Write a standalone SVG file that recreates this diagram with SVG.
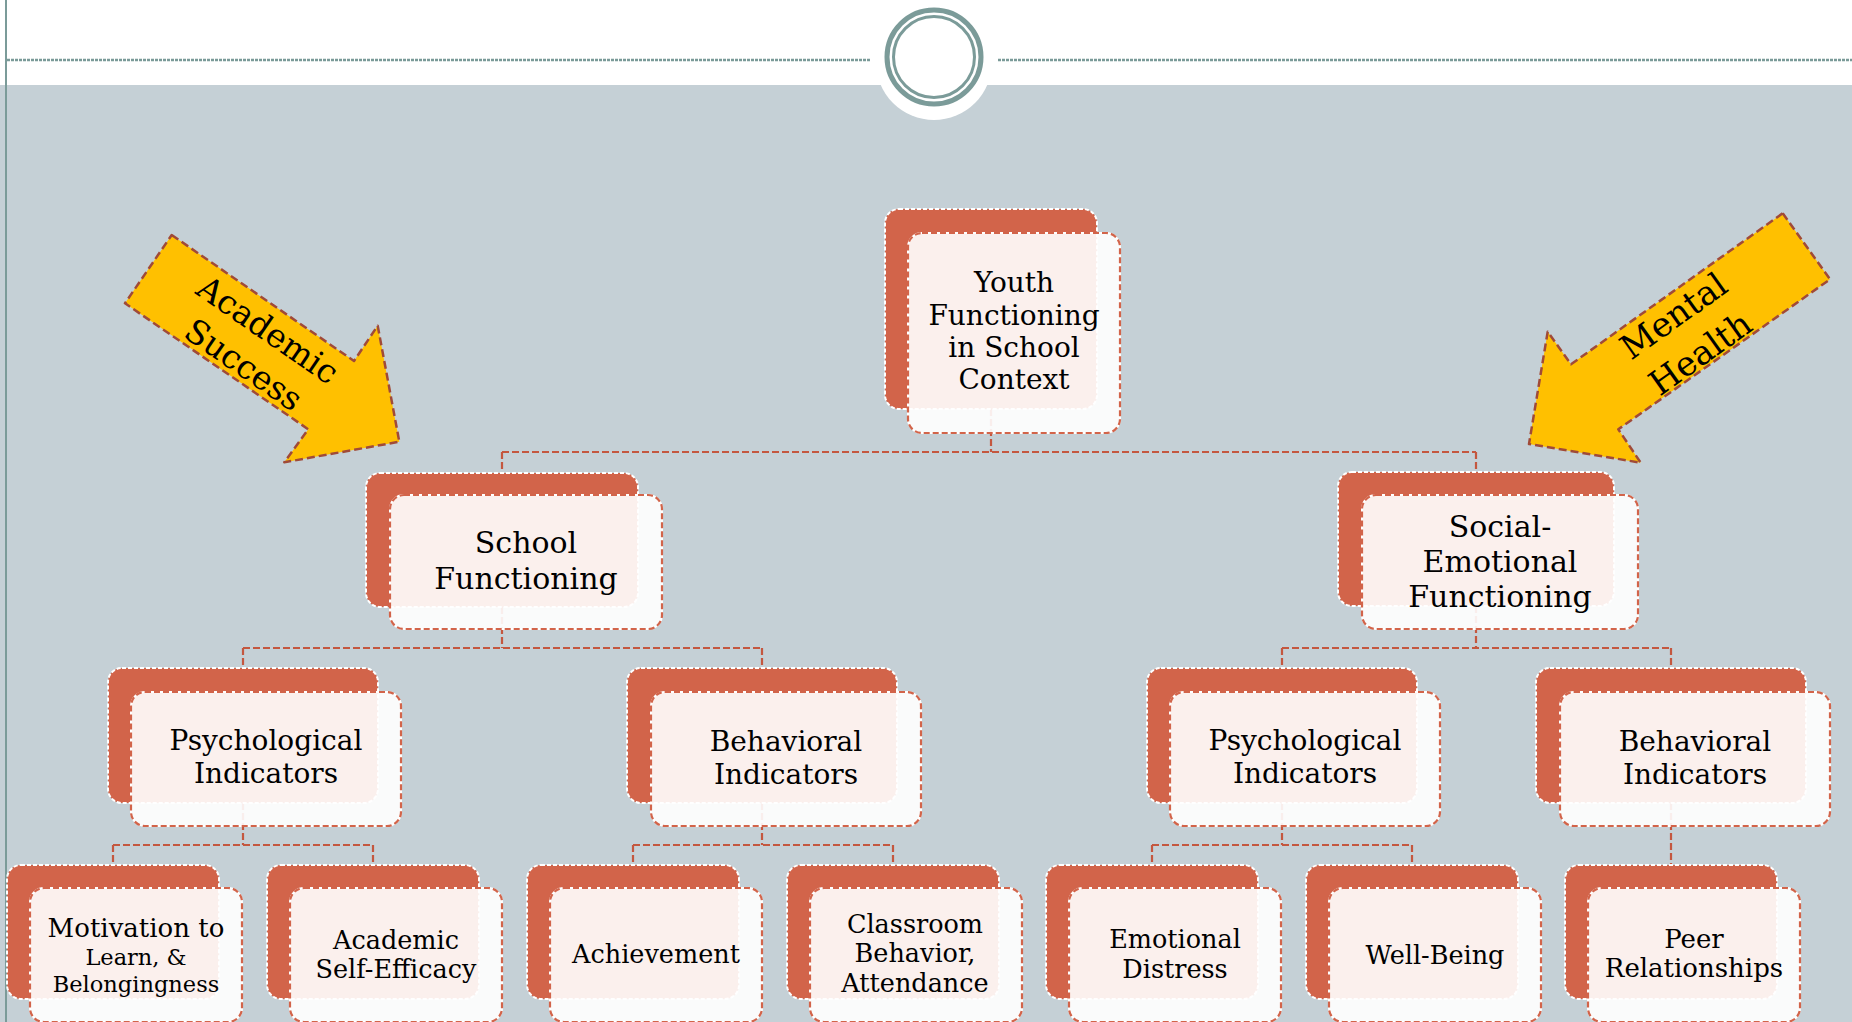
<svg xmlns="http://www.w3.org/2000/svg" width="1852" height="1022" viewBox="0 0 1852 1022">
<style>
.bk{fill:#d2644a;stroke:#ffffff;stroke-width:2;stroke-dasharray:4 2}
.fw{fill:none;stroke:#ffffff;stroke-width:2}
.fr{fill:#ffffff;fill-opacity:0.9;stroke:#d2644a;stroke-width:2.2;stroke-dasharray:6 3}
.cn{fill:none;stroke:#c4573f;stroke-width:2.2;stroke-dasharray:7 3}
.ar{fill:#ffc000;stroke:#a04a38;stroke-width:2.5;stroke-dasharray:8 4;stroke-linejoin:round}
text{font-family:"DejaVu Serif","Liberation Serif",serif;fill:#000000;text-anchor:middle}
.t28{font-size:28px}
.t30{font-size:30px}
.t25{font-size:25.5px}
</style>
<rect x="0" y="0" width="1852" height="1022" fill="#ffffff"/>
<rect x="0" y="85" width="1852" height="937" fill="#c5d0d6"/>
<line x1="6" y1="0" x2="6" y2="1022" stroke="#7b9b99" stroke-width="2"/>
<g id="header">
<line x1="7" y1="60" x2="870" y2="60" stroke="#7a9a98" stroke-width="2.5" stroke-dasharray="3 1"/>
<line x1="998" y1="60" x2="1852" y2="60" stroke="#7a9a98" stroke-width="2.5" stroke-dasharray="3 1"/>
<circle cx="934" cy="62" r="58" fill="#ffffff"/>
<circle cx="934" cy="57" r="47" fill="none" stroke="#7b9b99" stroke-width="5"/>
<circle cx="934" cy="57" r="40.5" fill="none" stroke="#7b9b99" stroke-width="3"/>
</g>
<g id="connectors">
<path class="cn" d="M991 409V452M502 452H1476M502 452V473M1476 452V472"/>
<path class="cn" d="M502 607V648M243 648H762M243 648V668M762 648V668"/>
<path class="cn" d="M1476 606V648M1282 648H1671M1282 648V668M1671 648V668"/>
<path class="cn" d="M243 803V845M113 845H373M113 845V865M373 845V865"/>
<path class="cn" d="M762 803V845M633 845H893M633 845V865M893 845V865"/>
<path class="cn" d="M1282 803V845M1152 845H1412M1152 845V865M1412 845V865"/>
<path class="cn" d="M1671 803V865"/>
</g>
<g id="arrow-academic">
<polygon class="ar" points="171.7,235 354,361 377.7,325.7 399.3,441.7 284.3,462.3 308.3,429.3 125,303.3"/>
<g transform="translate(256,347) rotate(34.6)">
<text x="0" y="-9.5" style="font-size:33px">Academic</text>
<text x="0" y="33" style="font-size:33px">Success</text>
</g>
</g>
<g id="arrow-mental">
<polygon class="ar" points="1782.7,213.3 1830,279.3 1618.3,429.3 1640.7,462.7 1529,444 1547.7,331.7 1571,364.3"/>
<g transform="translate(1686.5,334) rotate(-35.5)">
<text x="0" y="-10.5" style="font-size:34px">Mental</text>
<text x="0" y="35.5" style="font-size:34px">Health</text>
</g>
</g>
<g id="root">
<rect class="bk" x="885" y="209" width="212" height="200" rx="14"/>
<rect class="fw" x="908" y="233" width="212" height="200" rx="14"/>
<rect class="fr" x="908" y="233" width="212" height="200" rx="14"/>
<text class="t28" x="1014" y="292">Youth</text>
<text class="t28" x="1014" y="325">Functioning</text>
<text class="t28" x="1014" y="357">in School</text>
<text class="t28" x="1014" y="389">Context</text>
</g>
<g id="school">
<rect class="bk" x="366" y="473" width="272" height="134" rx="14"/>
<rect class="fw" x="390" y="495" width="272" height="134" rx="14"/>
<rect class="fr" x="390" y="495" width="272" height="134" rx="14"/>
<text class="t30" x="526" y="553">School</text>
<text class="t30" x="526" y="589">Functioning</text>
</g>
<g id="social">
<rect class="bk" x="1338" y="472" width="276" height="134" rx="14"/>
<rect class="fw" x="1362" y="495" width="276" height="134" rx="14"/>
<rect class="fr" x="1362" y="495" width="276" height="134" rx="14"/>
<text class="t30" x="1500" y="537">Social-</text>
<text class="t30" x="1500" y="572">Emotional</text>
<text class="t30" x="1500" y="607">Functioning</text>
</g>
<g id="psych-left">
<rect class="bk" x="108" y="668" width="270" height="135" rx="14"/>
<rect class="fw" x="131" y="692" width="270" height="134" rx="14"/>
<rect class="fr" x="131" y="692" width="270" height="134" rx="14"/>
<text class="t28" x="266" y="750">Psychological</text>
<text class="t28" x="266" y="783">Indicators</text>
</g>
<g id="behav-left">
<rect class="bk" x="627" y="668" width="270" height="135" rx="14"/>
<rect class="fw" x="651" y="692" width="270" height="134" rx="14"/>
<rect class="fr" x="651" y="692" width="270" height="134" rx="14"/>
<text class="t28" x="786" y="751">Behavioral</text>
<text class="t28" x="786" y="784">Indicators</text>
</g>
<g id="psych-right">
<rect class="bk" x="1147" y="668" width="270" height="135" rx="14"/>
<rect class="fw" x="1170" y="692" width="270" height="134" rx="14"/>
<rect class="fr" x="1170" y="692" width="270" height="134" rx="14"/>
<text class="t28" x="1305" y="750">Psychological</text>
<text class="t28" x="1305" y="783">Indicators</text>
</g>
<g id="behav-right">
<rect class="bk" x="1536" y="668" width="270" height="135" rx="14"/>
<rect class="fw" x="1560" y="692" width="270" height="134" rx="14"/>
<rect class="fr" x="1560" y="692" width="270" height="134" rx="14"/>
<text class="t28" x="1695" y="751">Behavioral</text>
<text class="t28" x="1695" y="784">Indicators</text>
</g>
<g id="motivation">
<rect class="bk" x="7" y="865" width="212" height="134" rx="14"/>
<rect class="fw" x="30" y="888" width="212" height="134" rx="14"/>
<rect class="fr" x="30" y="888" width="212" height="134" rx="14"/>
<text x="136" y="937" style="font-size:26px">Motivation to</text>
<text x="136" y="965" style="font-size:22.5px">Learn, &amp;</text>
<text x="136" y="992" style="font-size:22.5px">Belongingness</text>
</g>
<g id="self-efficacy">
<rect class="bk" x="267" y="865" width="212" height="134" rx="14"/>
<rect class="fw" x="290" y="888" width="212" height="134" rx="14"/>
<rect class="fr" x="290" y="888" width="212" height="134" rx="14"/>
<text class="t25" x="396" y="949">Academic</text>
<text class="t25" x="396" y="978">Self-Efficacy</text>
</g>
<g id="achievement">
<rect class="bk" x="527" y="865" width="212" height="134" rx="14"/>
<rect class="fw" x="550" y="888" width="212" height="134" rx="14"/>
<rect class="fr" x="550" y="888" width="212" height="134" rx="14"/>
<text class="t25" x="656" y="963">Achievement</text>
</g>
<g id="classroom">
<rect class="bk" x="787" y="865" width="212" height="134" rx="14"/>
<rect class="fw" x="810" y="888" width="212" height="134" rx="14"/>
<rect class="fr" x="810" y="888" width="212" height="134" rx="14"/>
<text class="t25" x="915" y="933">Classroom</text>
<text class="t25" x="915" y="962">Behavior,</text>
<text class="t25" x="915" y="992">Attendance</text>
</g>
<g id="distress">
<rect class="bk" x="1046" y="865" width="212" height="134" rx="14"/>
<rect class="fw" x="1069" y="888" width="212" height="134" rx="14"/>
<rect class="fr" x="1069" y="888" width="212" height="134" rx="14"/>
<text class="t25" x="1175" y="948">Emotional</text>
<text class="t25" x="1175" y="978">Distress</text>
</g>
<g id="well-being">
<rect class="bk" x="1306" y="865" width="212" height="134" rx="14"/>
<rect class="fw" x="1329" y="888" width="212" height="134" rx="14"/>
<rect class="fr" x="1329" y="888" width="212" height="134" rx="14"/>
<text class="t25" x="1435" y="964">Well-Being</text>
</g>
<g id="peer">
<rect class="bk" x="1565" y="865" width="212" height="134" rx="14"/>
<rect class="fw" x="1588" y="888" width="212" height="134" rx="14"/>
<rect class="fr" x="1588" y="888" width="212" height="134" rx="14"/>
<text x="1694" y="948" style="font-size:26px">Peer</text>
<text x="1694" y="977" style="font-size:26px">Relationships</text>
</g>
</svg>
